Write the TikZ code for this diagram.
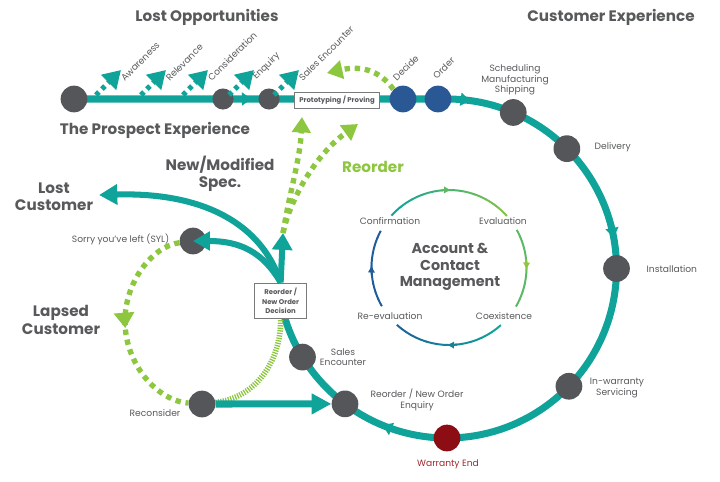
\documentclass[tikz,border=0pt]{standalone}
\usepackage{fontspec}
\setmainfont{Poppins}
\usetikzlibrary{arrows.meta,calc,backgrounds,decorations.markings}

\definecolor{cteal}{HTML}{0FA39A}
\definecolor{cgreen}{HTML}{8DC63F}
\definecolor{cblue}{HTML}{2A5894}
\definecolor{cnavy}{HTML}{1F5C99}
\definecolor{cdot}{HTML}{55565A}
\definecolor{ctext}{HTML}{58595B}
\definecolor{cred}{HTML}{8C0D13}
\definecolor{credtext}{HTML}{A3262B}

\tikzset{
  dot/.style={circle, fill=cdot, minimum size=19pt, inner sep=0pt},
  smalldot/.style={dot, minimum size=15pt},
  lbl/.style={font=\fontsize{6.5}{7.3}\selectfont, text=ctext, align=center, inner sep=1pt},
  hd/.style={font=\fontsize{10.8}{12.3}\selectfont\bfseries, text=ctext, align=center},
  boxed/.style={draw=ctext!80, line width=0.6pt, fill=white, font=\fontsize{4.9}{7}\selectfont\bfseries, text=ctext, align=center, inner sep=2pt},
  mainline/.style={cteal, line width=5pt},
  tealarrow/.style={cteal, line width=4.3pt, -{Triangle[length=13pt,width=14pt]}},
  greendot/.style={cgreen, line width=3.8pt, dash pattern=on 3.8pt off 3.4pt},
  greentip/.style={-{Triangle[length=11pt,width=13pt]}},
  hatch/.style={cgreen, line width=4pt, dash pattern=on 0.9pt off 0.9pt},
  tealdot/.style={cteal, line width=3.6pt, dash pattern=on 3pt off 3pt, -{Triangle[length=12.5pt,width=14.5pt]}},
  ring/.style={line width=1.4pt},
  ringtip/.style={ring, -{Triangle[length=4.5pt,width=4.5pt]}},
}

\begin{document}
\begin{tikzpicture}[x=0.025cm, y=-0.025cm]
\useasboundingbox (0,0) rectangle (720,481);

% headings
\node [hd] at (207,17) {Lost Opportunities};
\node [hd] at (611,17) {Customer Experience};
\node [hd] at (155,130) {The Prospect Experience};
\node [hd] at (54,197) {Lost\\Customer};
\node [hd] at (220,174) {New/Modified\\Spec.};
\node [hd] at (61,320) {Lapsed\\Customer};
\node [hd, text=cgreen] at (373,167) {Reorder};
\node [hd, font=\fontsize{10.2}{11.7}\selectfont\bfseries] at (450,267) {Account \&\\Contact\\Management};

\coordinate (C) at (447,268.5); % centre of the customer loop
\coordinate (top) at (447,99);
\coordinate (R) at (449,267.5); % centre of the account ring

% prospect line
\node [dot] (start) at (74,99) {};
\node [smalldot] (consid) at (223,99) {};
\node [smalldot] (enq) at (269,99) {};
\node [boxed, minimum width=60pt, minimum height=11.3pt] (proto) at (337,100) {Prototyping / Proving};
\node [dot, fill=cblue] (decide) at (403,99) {};
\node [dot, fill=cblue] (order) at (438,99) {};
\node [lbl, rotate=45, anchor=south west] at (397,84) {Decide};
\node [lbl, rotate=45, anchor=south west] at (437,82) {Order};

% customer loop
\node [dot] (sched) at ($(C)+(-67:169.5)$) {};
\node [dot] (deliv) at ($(C)+(-45:169.5)$) {};
\node [dot] (install) at ($(C)+(0:169.5)$) {};
\node [dot] (inwar) at ($(C)+(44:169.5)$) {};
\node [dot, fill=cred] (wend) at ($(C)+(90:169.5)$) {};
\node [dot] (reenq) at ($(C)+(127:169.5)$) {};
\node [dot] (salesenc) at ($(C)+(148.5:169.5)$) {};
\node [boxed, minimum width=37pt, minimum height=25.5pt] (decision) at ($(C)+(169:169.5)$) {Reorder /\\New Order\\Decision};
\node [dot] (syl) at (193,241) {};
\node [dot] (recon) at (202,404) {};

\node [lbl] at (515,80) {Scheduling\\Manufacturing\\Shipping};
\node [lbl, anchor=west] at (593,147) {Delivery};
\node [lbl, anchor=west] at (645,269) {Installation};
\node [lbl] at (617,388) {In-warranty\\Servicing};
\node [lbl, text=credtext] at (448,464) {Warranty End};
\node [lbl] at (417,400) {Reorder / New Order\\Enquiry};
\node [lbl] at (343,357) {Sales\\Encounter};
\node [lbl, anchor=east] at (171,239) {Sorry you've left (SYL)};
\node [lbl] at (155,413) {Reconsider};

\node [lbl] at (390,221) {Confirmation};
\node [lbl] at (503,221) {Evaluation};
\node [lbl] at (504,316) {Coexistence};
\node [lbl] at (390,316) {Re-evaluation};

\coordinate (lostc) at (99,195);
\coordinate (newspec) at (283,233);
\coordinate (reA) at (302,117);
\coordinate (reB) at (358,124);
\coordinate (salesback) at (327,73);

\begin{scope}[on background layer]
\draw[mainline, postaction={decorate}, decoration={markings,
    mark=at position 0.156 with {\arrow{Triangle[length=7pt,width=9pt]}},
    mark=at position 0.348 with {\arrow{Triangle[length=7pt,width=9pt]}},
    mark=at position 0.534 with {\arrow{Triangle[length=7pt,width=9pt]}},
    mark=at position 0.853 with {\arrow{Triangle[length=7pt,width=9pt]}}}]
  (start.center) -- (top) arc[start angle=-90, end angle=169, radius=169.5];
\draw[greendot, postaction={decorate}, decoration={markings,
    mark=at position 0.51 with {\arrow{Triangle[length=11pt,width=14pt]}}}]
  (syl) .. controls (153,246) and (125,281) .. (125,321) .. controls (125,365) and (158,401) .. (recon);
\draw[hatch] (recon) .. controls (255,398) and (281,362) .. (decision.south);
\draw[tealarrow, line width=5pt, -{Triangle[length=14pt,width=14pt]}] (recon) -- (reenq);
\end{scope}

% decision branches
\draw[tealarrow] (decision.north) .. controls (262,225) and (205,192) .. (lostc);
\draw[tealarrow, -{Triangle[length=12pt,width=13pt]}] (decision.north) .. controls (263,252) and (240,241) .. (syl.center);
\draw[tealarrow, -{Triangle[length=12pt,width=14pt]}] (decision.north) -- (newspec);
\draw[greendot, greentip] (newspec) .. controls (290,190) and (300,160) .. (reA);
\draw[greendot, greentip] (newspec) .. controls (290,200) and (315,155) .. (reB);
\draw[greendot, greentip] (decide.north west) .. controls (378,68) and (358,66) .. (salesback);

% lost opportunities
\foreach \x/\name in {96/Awareness, 141/Relevance, 183/Consideration, 229/Enquiry, 274/Sales Encounter}{
  \draw[tealdot] (\x,95) -- (\x+25,70);
  \node[lbl, rotate=45, anchor=south west] at (\x+29,84) {\name};
}

% account ring
\foreach \s/\e/\ca/\cb in {-138/-42/cteal/cgreen, -29/30/cgreen/cgreen!60!cteal, 48/132/cteal/cnavy, 150/208/cnavy/cnavy}{
  \foreach \i in {0,...,9}{
    \pgfmathsetmacro\aa{\s+(\e-\s)*\i/10}
    \pgfmathsetmacro\ab{\s+(\e-\s)*(\i+1)/10+0.3}
    \pgfmathtruncatemacro\p{100-\i*10}
    \draw[ring, \ca!\p!\cb] ($(R)+(\aa:77.5)$) arc[start angle=\aa, end angle=\ab, radius=77.5];
  }
}
\draw[ringtip, cgreen!60!cteal] ($(R)+(-96:77.5)$) arc[start angle=-96, end angle=-89, radius=77.5];
\draw[ringtip, cgreen] ($(R)+(-6:77.5)$) arc[start angle=-6, end angle=1, radius=77.5];
\draw[ringtip, cteal!50!cnavy] ($(R)+(84:77.5)$) arc[start angle=84, end angle=91, radius=77.5];
\draw[ringtip, cnavy] ($(R)+(174:77.5)$) arc[start angle=174, end angle=181, radius=77.5];

\end{tikzpicture}
\end{document}
